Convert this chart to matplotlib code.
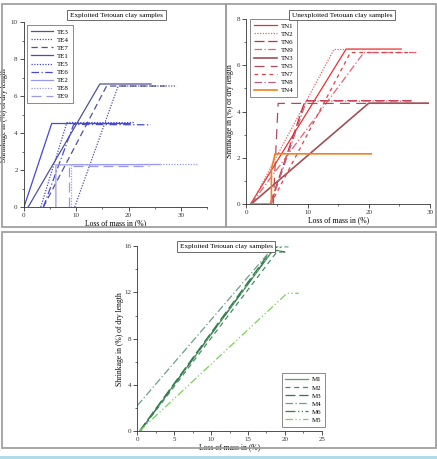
import matplotlib
matplotlib.use("Agg")
import matplotlib.pyplot as plt
from matplotlib.patches import Rectangle
from matplotlib.ticker import MultipleLocator

plt.rcParams['font.family'] = ['Liberation Serif', 'DejaVu Serif']

W, H = 437, 459

# ---------------- data ----------------
te_labels = ["TE3", "TE4", "TE7", "TE1", "TE5", "TE6", "TE2", "TE8", "TE9"]
te_x = [
    [0.8, 14.5, 24.3],
    [9.7, 18.0, 29.2],
    [3.7, 15.8, 27.0],
    [0.0, 5.3, 20.3],
    [3.2, 8.2, 21.0],
    [3.7, 9.5, 24.3],
    [6.1, 6.1, 26.0],
    [8.9, 8.9, 33.3],
    [8.7, 8.7, 24.0],
]
te_y = [
    [0, 6.66, 6.66],
    [0, 6.55, 6.55],
    [0, 6.55, 6.55],
    [0, 4.52, 4.52],
    [0, 4.57, 4.57],
    [0, 4.47, 4.45],
    [0, 2.28, 2.30],
    [0, 2.32, 2.32],
    [0, 2.20, 2.20],
]

tn_labels = ["TN1", "TN2", "TN6", "TN9", "TN3", "TN5", "TN7", "TN8", "TN4"]
tn_x = [
    [0.7, 16.3, 25.3],
    [0.8, 14.3, 22.0],
    [3.9, 9.6, 27.0],
    [0.8, 19.2, 28.0],
    [0.8, 20.0, 29.7],
    [4.4, 5.2, 29.7],
    [4.0, 17.0, 27.0],
    [4.0, 9.8, 27.0],
    [0.8, 4.1, 4.1, 4.7, 20.4],
]
tn_y = [
    [0, 6.70, 6.70],
    [0, 6.68, 6.68],
    [0, 4.47, 4.47],
    [0, 6.55, 6.55],
    [0, 4.36, 4.36],
    [0, 4.35, 4.35],
    [0, 6.55, 6.55],
    [0, 4.45, 4.45],
    [0, 0, 1.5, 2.17, 2.17],
]

m_labels = ["M1", "M2", "M3", "M4", "M6", "M5"]
m_x = [
    [0.37, 18.45, 20.0],
    [0.4, 18.9, 19.6],
    [0.3, 18.2, 20.0],
    [0.0, 18.5, 20.5],
    [0.4, 18.6, 19.5],
    [0.3, 20.3, 21.9],
]
m_y = [
    [0, 15.7, 15.5],
    [0, 15.5, 15.5],
    [0, 15.7, 15.5],
    [2.2, 15.95, 15.95],
    [0, 15.9, 15.9],
    [0, 11.93, 11.93],
]

# ---------------- styles ----------------
te_colors = ["#50509a", "#50509a", "#50509a", "#4848d0", "#4848d0", "#4848d0", "#9a9ae8", "#9a9ae8", "#9a9ae8"]
te_styles = ["-", (0, (1, 1.2)), (0, (5, 3)), "-", (0, (1, 1.2)), (0, (6, 2, 1, 2)), "-", (0, (1, 1.2)), (0, (8, 4))]
tn_colors = ["#e83030", "#f06060", "#d02840", "#e86070", "#a05058", "#b04a5a", "#e04048", "#c06078", "#f08020"]
tn_styles = ["-", (0, (1, 1.2)), (0, (8, 3)), (0, (6, 2, 1, 2)), "-", (0, (8, 5)), (0, (3, 3)), (0, (6, 2, 1, 2)), "-"]
tn_widths = [0.9, 0.9, 0.9, 0.9, 1.2, 0.9, 0.9, 0.9, 1.2]
m_colors = ["#5aa05a", "#4a8a6a", "#2a7a4a", "#6aa08a", "#3a7a5a", "#7ad05a"]
m_styles = ["-", (0, (4, 3)), (0, (8, 3)), (0, (6, 2, 1, 2)), (0, (8, 2, 1, 2, 1, 2)), (0, (6, 2, 1, 2, 1, 2))]

fig = plt.figure(figsize=(W / 100, H / 100), dpi=100)


def rect_px(l, r, t, b):
    return [l / W, 1 - b / H, (r - l) / W, (b - t) / H]


def style_axes(ax):
    for s in ["top", "right"]:
        ax.spines[s].set_visible(False)
    for s in ["left", "bottom"]:
        ax.spines[s].set_linewidth(0.6)
        ax.spines[s].set_color("#333333")
    ax.tick_params(which="major", direction="out", length=3, width=0.6, labelsize=5, pad=1.5, colors="#333333")
    ax.tick_params(which="minor", direction="out", length=1.5, width=0.5, colors="#333333")
    ax.set_facecolor("none")


def set_labels(ax, xl_y, yl_x):
    ax.set_xlabel("Loss of mass in (%)", fontsize=5.5)
    ax.set_ylabel("Shrinkage in (%) of dry length", fontsize=5.5)
    ax.xaxis.set_label_coords(0.5, xl_y)
    ax.yaxis.set_label_coords(yl_x, 0.5)


def add_frame(l, t, r, b):
    fig.add_artist(Rectangle((l / W, 1 - b / H), (r - l) / W, (b - t) / H,
                             transform=fig.transFigure, fill=False, edgecolor="#a0a0a0", linewidth=1.3))


def add_title(text, cx, cy):
    fig.text(cx / W, 1 - cy / H, text, ha="center", va="center", fontsize=5.2,
             bbox=dict(boxstyle="square,pad=0.35", fc="white", ec="#555555", lw=0.6))


def add_legend(ax, loc, anchor):
    leg = ax.legend(loc=loc, bbox_to_anchor=anchor, fontsize=5, frameon=True, fancybox=False,
                    edgecolor="#555555", handlelength=3.3, labelspacing=0.32, borderpad=0.55,
                    handletextpad=0.5, borderaxespad=0)
    leg.get_frame().set_linewidth(0.6)
    return leg


# frames
add_frame(1.5, 4, 226, 227)
add_frame(226, 4, 436, 227)
add_frame(1.5, 232, 436, 448)
fig.add_artist(Rectangle((0, 0), 1, 3 / H, transform=fig.transFigure, color="#b0dce8", lw=0))

# ---- top-left ----
ax1 = fig.add_axes(rect_px(24, 207, 22.3, 207))
for i in range(len(te_labels)):
    ax1.plot(te_x[i], te_y[i], color=te_colors[i], linestyle=te_styles[i], lw=0.9, label=te_labels[i])
ax1.set_xlim(0, 35)
ax1.set_ylim(0, 10)
ax1.xaxis.set_major_locator(MultipleLocator(10))
ax1.xaxis.set_minor_locator(MultipleLocator(5))
ax1.yaxis.set_major_locator(MultipleLocator(2))
ax1.yaxis.set_minor_locator(MultipleLocator(1))
style_axes(ax1)
set_labels(ax1, -0.065, -0.085)
add_legend(ax1, "upper left", ((26.7 - 24) / 183, (207 - 25) / 184.7))
add_title("Exploited Tetouan clay samples", 116.5, 15)

# ---- top-right ----
ax2 = fig.add_axes(rect_px(246.3, 430, 19, 204))
for i in range(len(tn_labels)):
    ax2.plot(tn_x[i], tn_y[i], color=tn_colors[i], linestyle=tn_styles[i], lw=tn_widths[i], label=tn_labels[i])
ax2.set_xlim(0, 30)
ax2.set_ylim(0, 8)
ax2.xaxis.set_major_locator(MultipleLocator(10))
ax2.xaxis.set_minor_locator(MultipleLocator(5))
ax2.yaxis.set_major_locator(MultipleLocator(2))
ax2.yaxis.set_minor_locator(MultipleLocator(1))
style_axes(ax2)
set_labels(ax2, -0.065, -0.066)
add_legend(ax2, "upper left", ((250.3 - 246.3) / 183.7, (204 - 19) / 185))
add_title("Unexploited Tetouan clay samples", 342, 15)

# ---- bottom ----
ax3 = fig.add_axes(rect_px(137.3, 321.7, 246.3, 431))
for i in range(len(m_labels)):
    ax3.plot(m_x[i], m_y[i], color=m_colors[i], linestyle=m_styles[i], lw=0.9, label=m_labels[i])
ax3.set_xlim(0, 25)
ax3.set_ylim(0, 16)
ax3.xaxis.set_major_locator(MultipleLocator(5))
ax3.xaxis.set_minor_locator(MultipleLocator(2.5))
ax3.yaxis.set_major_locator(MultipleLocator(4))
ax3.yaxis.set_minor_locator(MultipleLocator(2))
style_axes(ax3)
set_labels(ax3, -0.065, -0.071)
add_legend(ax3, "lower right", ((325.3 - 137.3) / 184.4, (431 - 426.7) / 184.7))
add_title("Exploited Tetouan clay samples", 226, 246.5)

fig.savefig("out.png", dpi=100)
